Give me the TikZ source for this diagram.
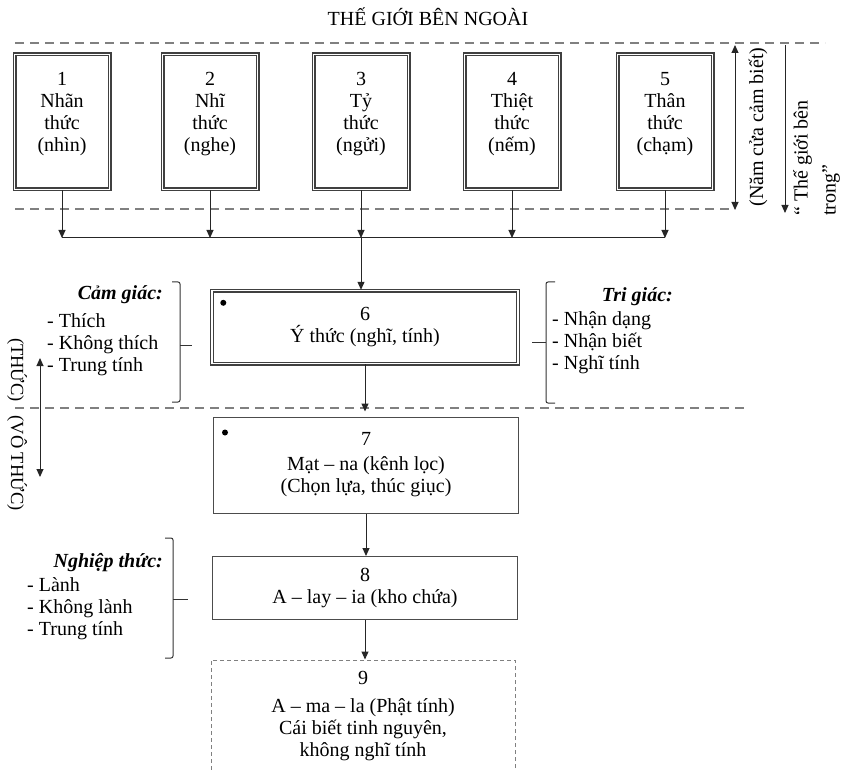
\documentclass[tikz,border=0pt]{standalone}
\usepackage{fontspec}
\setmainfont{Liberation Serif}
\usetikzlibrary{arrows.meta,positioning}

\begin{document}
\begin{tikzpicture}[x=1pt, y=-1pt, >={Triangle[length=8pt,width=7pt]},
    font=\fontsize{20}{22}\selectfont,
    sense/.style={draw=black!75, double=white, double distance=1.2pt, line width=1.4pt,
        minimum width=95pt, minimum height=135pt, inner sep=0pt},
    mind/.style={draw=black!75, double=white, double distance=1.2pt, line width=1.4pt,
        minimum width=306pt, minimum height=73pt, align=center},
    plainbox/.style={draw=black!70, line width=1pt, minimum width=305pt, align=center},
    ghostbox/.style={draw=gray, line width=1pt, dash pattern=on 4pt off 3pt,
        minimum width=304pt, minimum height=140pt},
    sep/.style={gray, line width=1.5pt, dash pattern=on 9pt off 6pt},
    flow/.style={->, line width=1pt, black!85},
    bracket/.style={line width=1pt, black!80, rounded corners=2pt},
    list/.style={anchor=north west, align=left, inner sep=0pt},
    head/.style={anchor=east, inner sep=0pt, font=\fontsize{20}{22}\selectfont\bfseries\itshape},
    side/.style={rotate=-90, font=\fontsize{18.5}{22}\selectfont}]
    % --- 1. Frame ---
    \useasboundingbox (0,0) rectangle (841,770);
    \clip (0,0) rectangle (841,770);
    \node (outer) at (428,17) {THẾ GIỚI BÊN NGOÀI};
    % dashed separators
    \draw[sep] (15,43) -- (825,43);
    \draw[sep] (15,209) -- (735,209);
    \draw[sep] (15,408) -- (745,408);
    % --- 2. Five senses ---
    \foreach \i/\x/\name/\what in {1/62/Nhãn/nhìn, 2/210/Nhĩ/nghe, 3/361/Tỷ/ngửi,
        4/512/Thiệt/nếm, 5/665/Thân/chạm}{
        \node[sense] (b\i) at (\x,122) {};
        \node[anchor=north, align=center, inner sep=0pt] (t\i) at ([yshift=-18pt]b\i.north)
            {\i\\\name\\thức\\(\what)};
    }
    \coordinate (busL) at (62,238);
    \coordinate (busR) at (665,238);
    \draw[line width=1pt, black!85] (busL) -- (busR);
    \foreach \i in {1,...,5}
        \draw[flow] (b\i.south) -- (b\i.south |- busL);
    % --- 3. Mind column ---
    \node[mind] (b6) at (365,327) {6\\Ý thức (nghĩ, tính)};
    \fill ([shift={(12,13)}]b6.north west) circle (3pt);
    \node[plainbox, minimum height=96pt] (b7) at (366,465)
        {7\\[3pt]Mạt – na (kênh lọc)\\(Chọn lựa, thúc giục)};
    \fill ([shift={(12,16)}]b7.north west) circle (3pt);
    \node[plainbox, minimum height=63pt] (b8) at (365,588) {8\\A – lay – ia (kho chứa)};
    \node[ghostbox] (b9) at (363,730) {};
    \node[anchor=north, align=center, inner sep=0pt] (t9) at ([yshift=-12pt]b9.north)
        {9\\[6pt]A – ma – la (Phật tính)\\Cái biết tinh nguyên,\\không nghĩ tính};
    \draw[flow] (b3.south |- busL) -- (b3.south |- b6.north);
    \draw[flow, shorten >=5pt] (b6.south) -- (b6.south |- b7.north);
    \draw[flow] (b7.south) -- (b7.south |- b8.north);
    \draw[flow] (b8.south) -- (b8.south |- b9.north);
    % --- 4. Side notes ---
    \draw[bracket] (172,282) -- (180,282) -- (180,402) -- (172,402);
    \draw[bracket] (180,345) -- (192,345);
    \node[head] (camH) at (163,295) {Cảm giác:};
    \node[list] (camL) at (47,313) {- Thích\\- Không thích\\- Trung tính};
    \draw[bracket] (555,282) -- (546,282) -- (546,403) -- (555,403);
    \draw[bracket] (532,342) -- (546,342);
    \node[head] (triH) at (673,297) {Tri giác:};
    \node[list] (triL) at (552,311) {- Nhận dạng\\- Nhận biết\\- Nghĩ tính};
    \draw[bracket] (165,538) -- (173,538) -- (173,658) -- (165,658);
    \draw[bracket] (173,599) -- (188,599);
    \node[head] (ngH) at (163,563) {Nghiệp thức:};
    \node[list] (ngL) at (27,577) {- Lành\\- Không lành\\- Trung tính};
    % conscious / unconscious
    \coordinate (thucT) at (40,358);
    \coordinate (thucB) at (40,477);
    \draw[<->, line width=1pt, black!85] (thucT) -- (thucB);
    \node[side] (thuc) at (17,370) {(THỨC)};
    \node[side] (vothuc) at (17,463) {(VÔ THỨC)};
    % gates and inner world
    \coordinate (gateT) at (735,45);
    \coordinate (gateB) at (735,210);
    \draw[<->, line width=1pt, black!85] (gateT) -- (gateB);
    \node[rotate=90] (gate) at (758,127) {(Năm cửa cảm biết)};
    \coordinate (innerT) at (785,45);
    \coordinate (innerB) at (785,213);
    \draw[->, line width=1pt, black!85] (innerT) -- (innerB);
    \node[rotate=90, align=left, anchor=north west, inner sep=0pt,
        font=\fontsize{20}{28}\selectfont] (inner) at (793,216) {“ Thế giới bên\\trong”};
\end{tikzpicture}
\end{document}
